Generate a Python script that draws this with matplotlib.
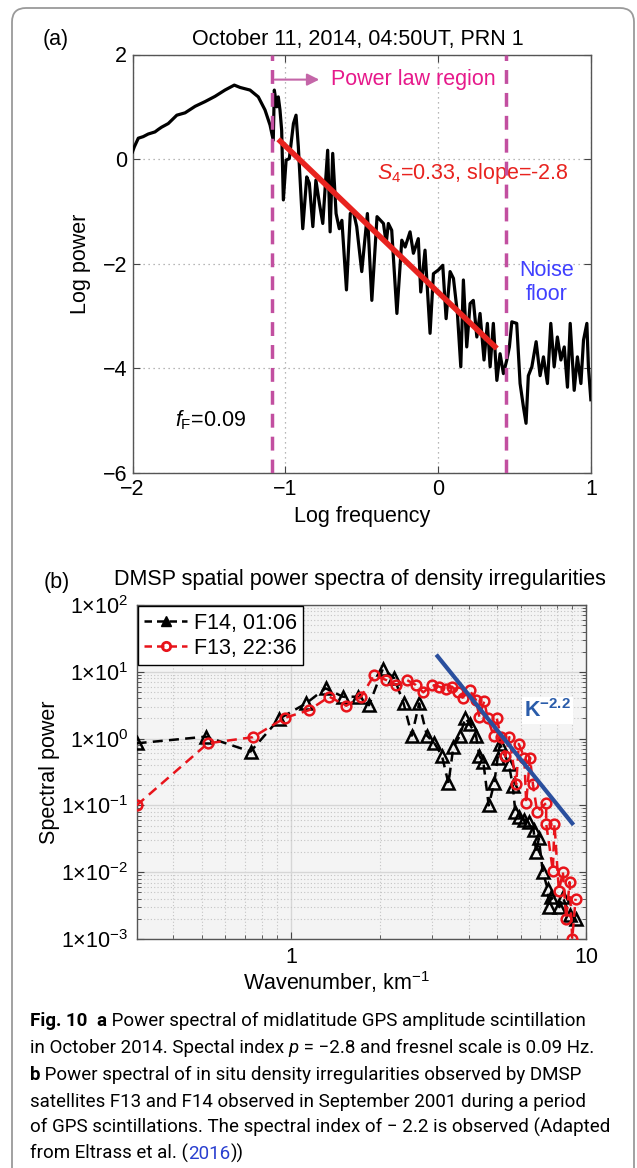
import matplotlib
matplotlib.use("Agg")
import matplotlib.pyplot as plt
import numpy as np
from matplotlib.patches import FancyBboxPatch
from matplotlib.lines import Line2D
from matplotlib.ticker import FixedLocator, LogLocator, NullFormatter

plt.rcParams['font.family'] = ['Liberation Sans', 'DejaVu Sans']
plt.rcParams['mathtext.fontset'] = 'custom'
plt.rcParams['mathtext.rm'] = 'Liberation Sans'
plt.rcParams['mathtext.it'] = 'Liberation Sans:italic'
plt.rcParams['mathtext.bf'] = 'Liberation Sans:bold'

# ---- panel (a) data : log frequency / log power
log_f = [-2.0, -1.988, -1.962, -1.93, -1.897, -1.853, -1.83, -1.81, -1.766, -1.71,
         -1.656, -1.59, -1.525, -1.46, -1.395, -1.334, -1.296, -1.231, -1.177, -1.133,
         -1.10, -1.079, -1.072, -1.056, -1.046, -1.035, -1.024, -1.013, -0.995, -0.974,
         -0.947, -0.93, -0.915, -0.886, -0.86, -0.843, -0.82, -0.80, -0.777, -0.755,
         -0.723, -0.707, -0.69, -0.668, -0.647, -0.63, -0.60, -0.575, -0.555, -0.533,
         -0.50, -0.463, -0.434, -0.40, -0.358, -0.34, -0.326, -0.304, -0.27, -0.238,
         -0.216, -0.184, -0.162, -0.13, -0.114, -0.086, -0.053, -0.031, 0.001, 0.03,
         0.052, 0.078, 0.10, 0.126, 0.148, 0.165, 0.187, 0.209, 0.23, 0.253,
         0.274, 0.30, 0.322, 0.34, 0.361, 0.384, 0.405, 0.427, 0.449, 0.466,
         0.482, 0.514, 0.536, 0.558, 0.575, 0.59, 0.613, 0.641, 0.667, 0.689,
         0.715, 0.737, 0.759, 0.78, 0.803, 0.825, 0.846, 0.864, 0.89, 0.911,
         0.934, 0.951, 0.973, 0.983, 0.999]
log_p = [0.14, 0.235, 0.40, 0.43, 0.48, 0.52, 0.57, 0.61, 0.68, 0.84,
         0.885, 1.01, 1.10, 1.20, 1.32, 1.415, 1.37, 1.32, 1.19, 0.94,
         0.65, 0.36, 1.32, 1.0, 1.19, 0.94, 0.55, -0.78, -0.02, 0.01,
         0.68, 0.84, 0.24, -1.33, -0.34, -0.46, -1.29, -0.40, -0.85, -1.23,
         0.17, -1.39, 0.11, -1.04, -1.33, -1.17, -2.50, -1.04, -1.0, -1.29,
         -2.15, -1.04, -2.70, -1.10, -1.23, -1.61, -1.23, -1.36, -2.95, -1.55,
         -1.68, -1.39, -1.80, -1.52, -2.54, -1.74, -3.33, -2.19, -2.12, -2.03,
         -3.05, -2.15, -2.28, -2.95, -3.97, -2.31, -3.59, -2.76, -2.70, -3.40,
         -2.95, -3.84, -3.14, -3.97, -3.14, -4.23, -3.72, -4.10, -3.84, -3.59,
         -3.11, -3.14, -4.29, -4.74, -5.05, -4.14, -3.97, -3.49, -4.14, -3.78,
         -4.29, -3.14, -3.97, -3.40, -3.84, -3.59, -4.36, -3.14, -4.42, -3.78,
         -4.29, -3.46, -3.14, -3.97, -4.60]
fit_f = [-1.046, 0.384]
fit_p = [0.38, -3.62]
fresnel_f = -1.087
noise_f = 0.444

# ---- panel (b) data : wavenumber (km^-1) / spectral power
k_f14 = [0.30, 0.515, 0.73, 0.914, 1.125, 1.31, 1.50, 1.69, 1.84, 2.05,
         2.24, 2.41, 2.57, 2.72, 2.89, 3.06, 3.25, 3.42, 3.55, 3.74,
         3.90, 4.03, 4.24, 4.35, 4.49, 4.68, 4.89, 5.02, 5.11, 5.48,
         5.65, 5.76, 5.95, 6.18, 6.40, 6.64, 6.78, 6.92, 7.14, 7.42,
         7.48, 7.62, 8.13, 8.35, 8.80, 9.22]
p_f14 = [0.85, 1.07, 0.64, 1.99, 3.36, 5.66, 4.24, 4.24, 3.16, 11.1,
         8.03, 3.36, 1.11, 3.36, 1.11, 0.86, 0.553, 0.213, 0.74, 1.11,
         2.04, 1.67, 1.11, 0.553, 0.44, 0.10, 0.219, 0.52, 0.83, 0.41,
         0.194, 0.081, 0.068, 0.061, 0.057, 0.043, 0.020, 0.032, 0.010, 0.0056,
         0.0030, 0.0042, 0.0030, 0.0042, 0.0023, 0.0020]
k_f13 = [0.30, 0.523, 0.743, 0.953, 1.15, 1.35, 1.54, 1.73, 1.91, 2.10,
         2.27, 2.47, 2.65, 2.81, 3.0, 3.18, 3.35, 3.51, 3.67, 3.82,
         4.03, 4.24, 4.35, 4.52, 4.64, 4.86, 4.98, 5.15, 5.33, 5.5,
         5.8, 5.92, 6.18, 6.27, 6.46, 6.61, 6.83, 7.33, 7.33, 7.72,
         7.82, 8.09, 8.35, 8.57, 8.80, 8.98, 9.22]
p_f13 = [0.10, 0.85, 1.05, 2.04, 2.66, 4.24, 3.10, 4.24, 8.81, 7.56,
         6.35, 7.56, 6.35, 4.92, 6.35, 6.0, 5.52, 6.0, 5.05, 4.09,
         5.33, 3.77, 2.11, 3.64, 2.04, 1.11, 2.04, 1.05, 0.54, 1.05,
         0.206, 0.83, 0.52, 0.109, 0.52, 0.206, 0.081, 0.109, 0.053, 0.0106,
         0.053, 0.0053, 0.010, 0.0020, 0.0071, 0.001, 0.0040]
k_fit = [3.14, 8.98]
p_fit = [17.1, 0.054]

W, H = 637, 1168
fig = plt.figure(figsize=(W / 100, H / 100), dpi=100)

def fx(px):
    return px / W

def fy(py):
    return 1 - py / H

# outer rounded frame
fig.patches.append(FancyBboxPatch((12, -30), 622, 1190, boxstyle="round,pad=0,rounding_size=14",
                                  transform=None, fc='none', ec='#9a9a9a', lw=1.3))

FS = 15.5
# ================= panel (a)
ax = fig.add_axes([fx(132.5), fy(473), fx(591) - fx(132.5), fy(54.5) - fy(473)])
ax.plot(log_f, log_p, color='k', lw=2.3, zorder=3)
ax.plot(fit_f, fit_p, color='#e8231f', lw=4, solid_capstyle='butt', zorder=4)
for xv in (fresnel_f, noise_f):
    ax.axvline(xv, color='#c24fa0', lw=2.5, ls=(0, (4, 2.6)), zorder=5)
ax.annotate('', xy=(-0.76, 1.52), xytext=(fresnel_f, 1.52),
            arrowprops=dict(arrowstyle='-|>', color='#c466a8', lw=1.5, mutation_scale=18))
ax.text(-0.70, 1.52, 'Power law region', color='#e6198b', fontsize=FS, va='center', ha='left')
ax.text(-0.40, -0.27, r'$\mathit{S}_4$=0.33, slope=-2.8', color='#e8231f', fontsize=FS,
        va='center', ha='left')
ax.text(0.71, -2.36, 'Noise\nfloor', color='#4040ff', fontsize=FS, va='center', ha='center',
        linespacing=1.15)
ax.text(-1.72, -5.0, r'$\mathit{f}_\mathrm{F}$=0.09', color='k', fontsize=FS, va='center', ha='left')
ax.set_xlim(-2, 1)
ax.set_ylim(-6, 2)
ax.set_xticks([-2, -1, 0, 1])
ax.set_yticks([-6, -4, -2, 0, 2])
ax.grid(True, ls=(0, (1, 3)), color='#a0a0a0', lw=0.9)
ax.tick_params(direction='in', length=5, labelsize=FS, top=True, right=True, color='#444444', pad=4)
for s in ax.spines.values():
    s.set_color('#555555')
    s.set_linewidth(1.0)
ax.set_xlabel('Log frequency', fontsize=FS)
ax.set_ylabel('Log power', fontsize=FS)
ax.xaxis.set_label_coords(0.5, -0.078)
ax.yaxis.set_label_coords(-0.09, 0.5)
fig.text(fx(358), fy(45), 'October 11, 2014, 04:50UT, PRN 1', fontsize=FS, ha='center', va='baseline')
fig.text(fx(43), fy(45), '(a)', fontsize=FS, ha='left', va='baseline')

# ================= panel (b)
bx = fig.add_axes([fx(136.6), fy(939), fx(586) - fx(136.6), fy(605) - fy(939)])
bx.set_facecolor('#f4f4f4')
bx.set_xscale('log')
bx.set_yscale('log')
bx.plot(k_f14, p_f14, color='k', lw=1.8, ls=(0, (4, 2.5)), marker='^', ms=8, mfc='none',
        mec='k', mew=1.8, zorder=3)
bx.plot(k_f13, p_f13, color='#e8141b', lw=1.8, ls=(0, (4, 2.5)), marker='o', ms=7, mfc='none',
        mec='#e8141b', mew=1.8, zorder=4)
bx.plot(k_fit, p_fit, color='#2a4f9e', lw=3, zorder=5)
bx.text(6.15, 2.6, r'$\mathbf{K}^{\mathbf{-2.2}}$', color='#2a5caa', fontsize=FS, va='center',
        ha='left', bbox=dict(fc='white', ec='none', pad=1.5), zorder=6)
bx.set_xlim(0.3, 10)
bx.set_ylim(1e-3, 1e2)
bx.xaxis.set_major_locator(FixedLocator([1, 10]))
bx.set_xticklabels(['1', '10'])
bx.xaxis.set_minor_locator(LogLocator(base=10, subs=np.arange(2, 10)))
bx.xaxis.set_minor_formatter(NullFormatter())
yt = [1e-3, 1e-2, 1e-1, 1e0, 1e1, 1e2]
bx.yaxis.set_major_locator(FixedLocator(yt))
bx.set_yticklabels([r'$\mathregular{1{\times}10^{%d}}$' % e for e in range(-3, 3)])
bx.yaxis.set_minor_locator(LogLocator(base=10, subs=np.arange(2, 10)))
bx.yaxis.set_minor_formatter(NullFormatter())
bx.grid(True, which='major', color='#d6d6d6', lw=1.0, ls='-')
bx.grid(True, which='minor', color='#c4c4c4', lw=0.8, ls=(0, (1, 2)))
bx.set_axisbelow(True)
bx.tick_params(which='both', direction='in', top=True, right=True, color='#444444')
bx.tick_params(which='major', length=5, labelsize=FS, pad=6)
bx.tick_params(which='minor', length=3)
for s in bx.spines.values():
    s.set_color('#555555')
    s.set_linewidth(1.0)
bx.set_xlabel(r'Wavenumber, km$^{-1}$', fontsize=FS)
bx.set_ylabel('Spectral power', fontsize=FS)
bx.xaxis.set_label_coords(0.444, -0.09)
bx.yaxis.set_label_coords(-0.17, 0.5)
handles = [Line2D([], [], color='k', lw=1.8, ls=(0, (3, 2)), marker='^', ms=7, mfc='k', mec='k'),
           Line2D([], [], color='#e8141b', lw=1.8, ls=(0, (3, 2)), marker='o', ms=6, mfc='none',
                  mec='#e8141b', mew=2)]
leg = bx.legend(handles, ['F14, 01:06', 'F13, 22:36'], loc='upper left', fontsize=FS,
                frameon=True, fancybox=False, edgecolor='k', framealpha=1, borderaxespad=0.05,
                handlelength=2.0, handletextpad=0.3, borderpad=0.3, labelspacing=0.2)
leg.get_frame().set_linewidth(1.0)
fig.text(fx(360), fy(585), 'DMSP spatial power spectra of density irregularities', fontsize=FS,
         ha='center', va='baseline')
fig.text(fx(44), fy(588), '(b)', fontsize=FS, ha='left', va='baseline')

# ================= caption
renderer = fig.canvas.get_renderer()
CF = ['Roboto', 'DejaVu Sans']
CS = 13.5

def run(x, y, parts):
    for txt, kw in parts:
        t = fig.text(fx(x), fy(y), txt, fontsize=CS, family=CF, va='baseline', ha='left', **kw)
        x += t.get_window_extent(renderer).width

reg = {}
bold = {'weight': 'bold'}
run(30, 1026, [('Fig. 10', bold), ('  ', reg), ('a', bold),
               (' Power spectral of midlatitude GPS amplitude scintillation', reg)])
run(30, 1053, [('in October 2014. Spectal index ', reg), ('p', {'style': 'italic'}),
               (' = \u22122.8 and fresnel scale is 0.09 Hz.', reg)])
run(30, 1080, [('b', bold), (' Power spectral of in situ density irregularities observed by DMSP', reg)])
run(30, 1107, [('satellites F13 and F14 observed in September 2001 during a period', reg)])
run(30, 1133, [('of GPS scintillations. The spectral index of \u2212 2.2 is observed (Adapted', reg)])
run(30, 1159, [('from Eltrass et al. (', reg), ('2016', {'color': '#2a3fd0'}), ('))', reg)])

fig.savefig('out.png', dpi=100)
